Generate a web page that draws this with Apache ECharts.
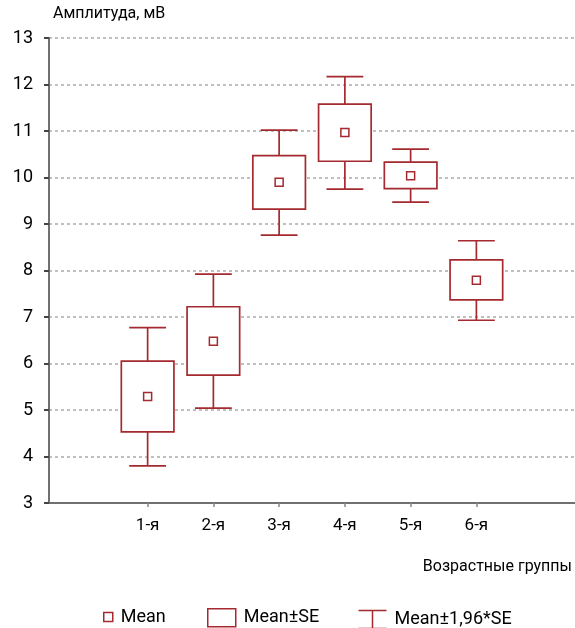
<!DOCTYPE html>
<html>
<head>
<meta charset="utf-8">
<script src="https://cdn.jsdelivr.net/npm/echarts@6/dist/echarts.min.js"></script>
<style>
html,body{margin:0;padding:0;background:#fff;}
#c{width:575px;height:628px;}
</style>
</head>
<body>
<div id="c"></div>
<script>
// ---- data ----
var categories = ['1-я', '2-я', '3-я', '4-я', '5-я', '6-я'];
var meanValues = [5.29, 6.48, 9.90, 10.97, 10.04, 7.79];
var seLow      = [4.53, 5.75, 9.32, 10.35, 9.76, 7.37];
var seHigh     = [6.05, 7.22, 10.47, 11.58, 10.33, 8.23];
var ciLow      = [3.80, 5.04, 8.76, 9.75, 9.47, 6.93];
var ciHigh     = [6.77, 7.92, 11.02, 12.17, 10.61, 8.64];
var yTicks     = [3, 4, 5, 6, 7, 8, 9, 10, 11, 12, 13];

var RED = '#a52a2f';
var FONT = 'Roboto';

// axis categories padded with empty slots on both sides
var axisCats = [' '].concat(categories).concat(['  ']);

var meanData = categories.map(function (c, i) { return [c, meanValues[i]]; });
var seData = categories.map(function (c, i) { return [c, seLow[i], seHigh[i]]; });
var ciData = categories.map(function (c, i) { return [c, ciLow[i], ciHigh[i]]; });

var chart = echarts.init(document.getElementById('c'), null, {renderer: 'canvas'});

function renderWhisker(params, api) {
  var idx = api.value(0);
  var lo = api.coord([idx, api.value(1)]);
  var hi = api.coord([idx, api.value(2)]);
  var band = api.size([1, 0])[0];
  var half = band * 0.28;
  var st = {stroke: RED, lineWidth: 1.7, fill: null};
  return {
    type: 'group',
    children: [
      {type: 'line', shape: {x1: lo[0], y1: lo[1], x2: hi[0], y2: hi[1]}, style: st},
      {type: 'line', shape: {x1: lo[0] - half, y1: lo[1], x2: lo[0] + half, y2: lo[1]}, style: st},
      {type: 'line', shape: {x1: hi[0] - half, y1: hi[1], x2: hi[0] + half, y2: hi[1]}, style: st}
    ]
  };
}

function renderBox(params, api) {
  var idx = api.value(0);
  var lo = api.coord([idx, api.value(1)]);
  var hi = api.coord([idx, api.value(2)]);
  var band = api.size([1, 0])[0];
  var w = band * 0.8;
  return {
    type: 'rect',
    shape: {x: lo[0] - w / 2, y: hi[1], width: w, height: lo[1] - hi[1]},
    style: {fill: '#fff', stroke: RED, lineWidth: 1.7}
  };
}

var legendText = {fontFamily: FONT, fontSize: 18, color: '#000', lineHeight: 18, padding: [0, 0, 0, 3]};

var option = {
  animation: false,
  backgroundColor: '#fff',
  grid: {left: 49, right: 0, top: 38, bottom: 125, containLabel: false},
  title: {
    text: 'Возрастные группы',
    right: 3, top: 559,
    padding: 0,
    textStyle: {fontFamily: FONT, fontSize: 16, fontWeight: 'normal', color: '#000'}
  },
  legend: [
    {
      left: 103, top: 608, padding: 0, itemWidth: 9, itemHeight: 9, selectedMode: false,
      data: [{name: 'Mean', icon: 'rect', itemStyle: {color: '#fff', borderColor: RED, borderWidth: 1.5}}],
      textStyle: legendText
    },
    {
      left: 207, top: 608, padding: 0, itemWidth: 28, itemHeight: 18, selectedMode: false,
      data: [{name: 'Mean±SE', icon: 'rect', itemStyle: {color: '#fff', borderColor: RED, borderWidth: 1.5}}],
      textStyle: legendText
    },
    {
      left: 356, top: 608, padding: 0, itemWidth: 28, itemHeight: 18, selectedMode: false,
      data: [{name: 'Mean±1,96*SE', icon: 'path://M0,0L28,0M14,0L14,18M0,18L28,18',
              itemStyle: {color: 'none', borderColor: RED, borderWidth: 1.5}}],
      textStyle: legendText
    }
  ],
  xAxis: {
    type: 'category',
    data: axisCats,
    boundaryGap: true,
    axisLine: {show: true, lineStyle: {color: '#707070', width: 2}},
    axisTick: {
      show: true, alignWithLabel: true, length: 4,
      interval: function (i, v) { return v.trim() !== ''; },
      lineStyle: {color: '#888', width: 1.5}
    },
    axisLabel: {
      interval: 0, margin: 14,
      fontFamily: FONT, fontSize: 17, color: '#000'
    },
    splitLine: {show: false}
  },
  yAxis: {
    type: 'value',
    min: yTicks[0], max: yTicks[yTicks.length - 1], interval: 1,
    name: 'Амплитуда, мВ',
    nameLocation: 'end',
    nameGap: 16,
    nameTextStyle: {fontFamily: FONT, fontSize: 16, color: '#000', align: 'left', padding: [0, 0, 0, 4]},
    axisLine: {show: true, lineStyle: {color: '#707070', width: 2}},
    axisTick: {show: true, length: 5, lineStyle: {color: '#444', width: 2}},
    axisLabel: {
      margin: 16, fontFamily: FONT, fontSize: 18, color: '#000',
      formatter: function (v) { return yTicks.indexOf(v) >= 0 ? String(v) : ''; }
    },
    splitLine: {show: true, lineStyle: {color: '#aaa', type: [3, 3], width: 1.5}}
  },
  series: [
    {
      name: 'Mean±1,96*SE',
      type: 'custom',
      renderItem: renderWhisker,
      encode: {x: 0, y: [1, 2]},
      data: ciData,
      z: 2
    },
    {
      name: 'Mean±SE',
      type: 'custom',
      renderItem: renderBox,
      encode: {x: 0, y: [1, 2]},
      data: seData,
      z: 3
    },
    {
      name: 'Mean',
      type: 'scatter',
      symbol: 'rect',
      symbolSize: 8,
      itemStyle: {color: '#fff', borderColor: RED, borderWidth: 1.5, opacity: 1},
      data: meanData,
      z: 4
    }
  ]
};
chart.setOption(option);
</script>
</body>
</html>
